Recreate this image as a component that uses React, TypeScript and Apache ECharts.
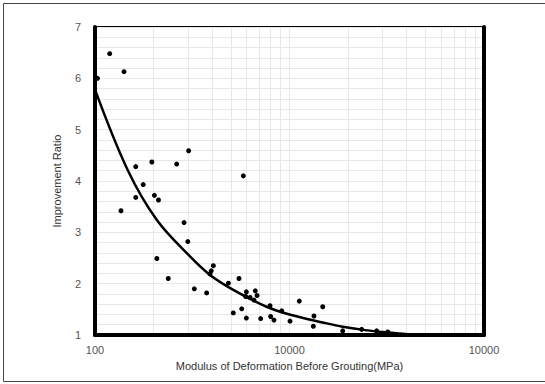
import React, { useEffect, useRef } from "react";
import * as echarts from "echarts";

// Scatter observations: [modulus (MPa), improvement ratio]
const obsModulus = [
  103, 119, 141, 162, 196, 263, 303, 177, 162, 202, 212, 136, 287, 300, 208, 238,
  324, 375, 406, 396, 390, 579, 485, 550, 514, 568, 600, 667, 681, 595, 627, 657,
  600, 711, 794, 800, 832, 912, 1006, 1123, 1326, 1336, 1482, 1877, 2350, 2806, 3200,
];
const obsRatio = [
  6.0, 6.48, 6.13, 4.28, 4.37, 4.33, 4.59, 3.93, 3.68, 3.72, 3.63, 3.42, 3.19, 2.82, 2.49, 2.1,
  1.9, 1.82, 2.35, 2.25, 2.19, 4.1, 2.01, 2.1, 1.43, 1.51, 1.84, 1.86, 1.77, 1.75, 1.73, 1.68,
  1.33, 1.32, 1.57, 1.36, 1.29, 1.47, 1.27, 1.66, 1.17, 1.37, 1.55, 1.08, 1.11, 1.08, 1.06,
];

// Fitted trend curve
const curveModulus = [100, 147, 208, 308, 390, 514, 762, 1000, 1500, 1877, 2500, 3200, 4500, 6000];
const curveRatio = [5.78, 4.22, 3.24, 2.53, 2.17, 1.88, 1.55, 1.4, 1.24, 1.16, 1.09, 1.05, 1.0, 0.99];

// Minor log grid positions
const minorGridX = [200, 300, 400, 500, 600, 700, 800, 900, 2000, 3000, 4000, 5000, 6000, 7000, 8000, 9000];

// Tick labels as printed in the reference
const xTickValues = [100, 1000, 10000];
const xTickLabels = ["100", "10000", "10000"];

const xTitle = "Modulus of Deformation Before Grouting(MPa)";
const yTitle = "Improvement Ratio";

export default function App() {
  const ref = useRef<HTMLDivElement>(null);

  useEffect(() => {
    document.body.style.margin = "0";
    if (!ref.current) return;
    const chart = echarts.init(ref.current, null, { renderer: "svg" });
    const font = "'Liberation Sans', Arial, sans-serif";
    const gridColor = "#e8e8e8";

    chart.setOption({
      animation: false,
      backgroundColor: "#ffffff",
      textStyle: { fontFamily: font },
      grid: {
        left: 95,
        right: 61,
        top: 27,
        bottom: 49,
        show: true,
        borderColor: "#000",
        borderWidth: 2,
        backgroundColor: "transparent",
      },
      xAxis: [
        {
          type: "log",
          logBase: 10,
          min: 100,
          max: 10000,
          name: xTitle,
          nameLocation: "middle",
          nameGap: 25,
          nameTextStyle: { fontSize: 11, color: "#333", fontFamily: font },
          axisLine: { show: true, lineStyle: { color: "#000", width: 4 } },
          axisTick: { show: false },
          axisLabel: {
            fontSize: 11,
            color: "#555",
            margin: 9,
            formatter: (v: number) => {
              const i = xTickValues.findIndex((t) => Math.abs(t - v) < 1e-6);
              return i >= 0 ? xTickLabels[i] : "";
            },
          },
          splitLine: { show: true, lineStyle: { color: gridColor, width: 1 } },
        },
      ],
      yAxis: [
        {
          type: "value",
          min: 1,
          max: 7,
          interval: 1,
          name: yTitle,
          nameLocation: "middle",
          nameGap: 33,
          nameRotate: 90,
          nameTextStyle: { fontSize: 11, color: "#333", fontFamily: font },
          axisLine: { show: true, lineStyle: { color: "#000", width: 4 } },
          axisTick: { show: false },
          axisLabel: { fontSize: 11, color: "#555", margin: 14 },
          splitLine: { show: true, lineStyle: { color: gridColor, width: 1 } },
          minorTick: { show: false, splitNumber: 5 },
          minorSplitLine: { show: true, lineStyle: { color: gridColor, width: 1 } },
        },
        {
          type: "value",
          position: "right",
          min: 1,
          max: 7,
          interval: 1,
          axisLine: { show: true, lineStyle: { color: "#000", width: 4 } },
          axisTick: { show: false },
          axisLabel: { show: false },
          splitLine: { show: false },
        },
      ],
      graphic: [
        {
          type: "polyline",
          silent: true,
          shape: { points: [[545, 3.5], [3.5, 3.5], [3.5, 381.5], [545, 381.5]] },
          style: { stroke: "#444", lineWidth: 1, fill: null },
        },
      ],
      series: [
        {
          type: "line",
          data: [],
          silent: true,
          z: 0,
          markLine: {
            silent: true,
            z: 0,
            symbol: "none",
            label: { show: false },
            lineStyle: { color: gridColor, width: 1, type: "solid" },
            data: minorGridX.map((v) => ({ xAxis: v })),
          },
        },
        {
          type: "line",
          z: 3,
          smooth: 0.35,
          showSymbol: false,
          clip: true,
          lineStyle: { color: "#000", width: 2.5 },
          data: curveModulus.map((x, i) => [x, curveRatio[i]]),
        },
        {
          type: "scatter",
          z: 4,
          symbol: "circle",
          symbolSize: 5,
          itemStyle: { color: "#000", opacity: 1 },
          data: obsModulus.map((x, i) => [x, obsRatio[i]]),
        },
      ],
    });

    return () => chart.dispose();
  }, []);

  return <div ref={ref} style={{ width: 545, height: 384 }} />;
}
